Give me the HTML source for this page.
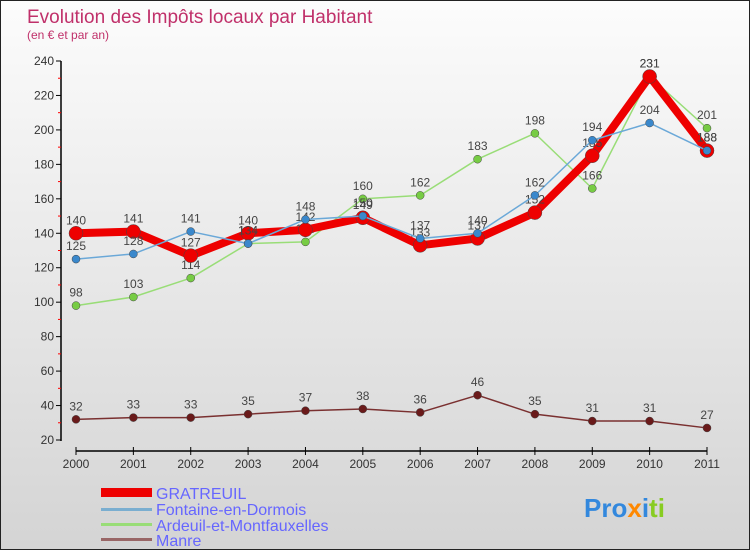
<!DOCTYPE html>
<html><head><meta charset="utf-8"><style>
body{margin:0;width:750px;height:550px;overflow:hidden;font-family:"Liberation Sans",sans-serif;}
#wrap{position:relative;width:748px;height:548px;border:1px solid #222;background:linear-gradient(#fcfcfc,#d4d4d4);}
</style></head><body>
<div id="wrap">
<svg id="chart" width="748" height="548" style="position:absolute;left:0;top:0">
<text x="26" y="22" font-size="19" fill="#c0306a">Evolution des Impôts locaux par Habitant</text>
<text x="26" y="38" font-size="12" fill="#c0306a">(en € et par an)</text>
<g id="axes"></g><g id="series"></g>
<g>
<rect x="100" y="487" width="51" height="9" fill="#ee0000"/>
<text x="155" y="498" font-size="16" fill="#6666ff">GRATREUIL</text>
<rect x="100" y="507" width="51" height="3" fill="#7aaed0"/>
<text x="155" y="514" font-size="16" fill="#6666ff">Fontaine-en-Dormois</text>
<rect x="100" y="522" width="51" height="3" fill="#99dd77"/>
<text x="155" y="530" font-size="16" fill="#6666ff">Ardeuil-et-Montfauxelles</text>
<rect x="100" y="537" width="51" height="3" fill="#996666"/>
<text x="155" y="545" font-size="16" fill="#6666ff">Manre</text>
</g>
<text x="583" y="516" font-size="26" font-weight="bold"><tspan fill="#3388dd">Pro</tspan><tspan fill="#ff8800">x</tspan><tspan fill="#3388dd">i</tspan><tspan fill="#88cc22">ti</tspan></text>
</svg>
</div>
<script>
const years=[2000,2001,2002,2003,2004,2005,2006,2007,2008,2009,2010,2011];
const gratreuil=[140,141,127,140,142,149,133,137,152,185,231,188];
const fontaine=[125,128,141,134,148,150,137,140,162,194,204,188];
const ardeuil=[98,103,114,134,135,160,162,183,198,166,231,201];
const manre=[32,33,33,35,37,38,36,46,35,31,31,27];
const yTicks=[20,40,60,80,100,120,140,160,180,200,220,240];
const NS="http://www.w3.org/2000/svg";
function xs(i){return 75+i*(706-75)/11;}
function ys(v){return 439-(v-20)*(439-60)/220;}
function mk(tag,attrs,parent){const e=document.createElementNS(NS,tag);for(const k in attrs)e.setAttribute(k,attrs[k]);parent.appendChild(e);return e;}
const axes=document.getElementById('axes');
let l=mk('line',{x1:60,y1:60,x2:60,y2:440,stroke:'#000','stroke-width':1.5},axes);


yTicks.forEach((v,i)=>{
 let t=mk('line',{x1:55,y1:ys(v),x2:60,y2:ys(v),stroke:'#000'},axes);
 
 
 if(i<yTicks.length-1){let m=mk('line',{x1:57,y1:ys(v+10),x2:60,y2:ys(v+10),stroke:'#f00'},axes);
 
 }
 let tx=mk('text',{x:53,y:ys(v)+4,'font-size':12,fill:'#333','text-anchor':'end'},axes);tx.textContent=v;
 
 
});
l=mk('line',{x1:75,y1:450,x2:706,y2:450,stroke:'#000','stroke-width':1.5},axes);


years.forEach((y,i)=>{
 let t=mk('line',{x1:xs(i),y1:446,x2:xs(i),y2:454,stroke:'#000'},axes);
 
 
 let tx=mk('text',{x:xs(i),y:467,'font-size':12,fill:'#333','text-anchor':'middle'},axes);tx.textContent=y;
 
 
});
const ser=document.getElementById('series');
function draw(data,name,color,w,r,dot){
 const g=mk('g',{},ser);
 
 
 let p=mk('polyline',{points:data.map((v,i)=>xs(i)+','+ys(v)).join(' '),fill:'none',stroke:color,'stroke-width':w,'stroke-linejoin':'round'},g);
 
 
 data.forEach((v,i)=>{
  let c=mk('circle',{cx:xs(i),cy:ys(v),r:r,fill:dot,stroke:'#444','stroke-width':0.5},g);
  
  
  let t=mk('text',{x:xs(i),y:ys(v)-9,'font-size':12,fill:'#444','text-anchor':'middle'},g);t.textContent=v;
  
  
 });
}
draw(manre,'manre','#7a3030',1.5,4,'#6a1a1a');
draw(ardeuil,'ardeuil','#99dd77',1.5,4,'#77cc44');
draw(gratreuil,'gratreuil','#ee0000',8,7,'#ee0000');
draw(fontaine,'fontaine','#6aa8d8',1.5,4,'#3a88cc');
</script>
</body></html>
